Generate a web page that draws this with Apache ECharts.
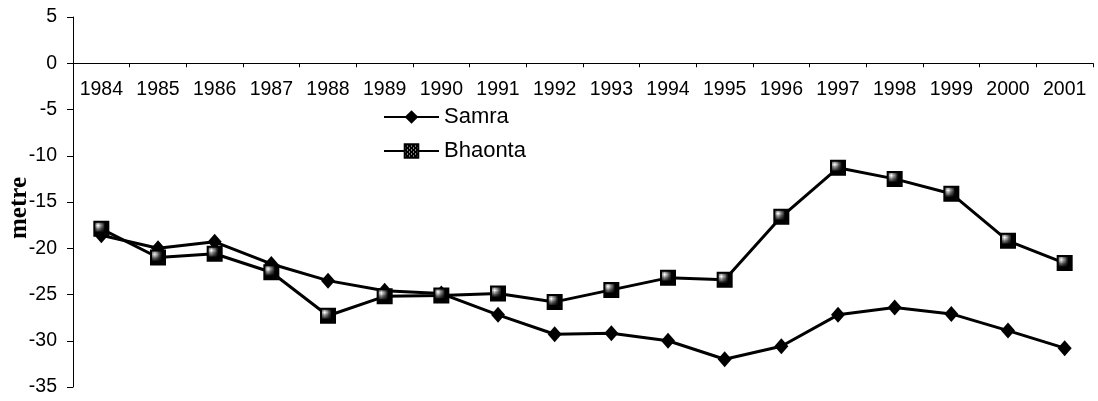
<!DOCTYPE html>
<html>
<head>
<meta charset="utf-8">
<script src="https://cdn.jsdelivr.net/npm/echarts@6/dist/echarts.min.js"></script>
<style>
html,body{margin:0;padding:0;background:#fff;}
#chart{width:1098px;height:401px;}
</style>
</head>
<body>
<div id="chart"></div>
<script>
const years = ['1984','1985','1986','1987','1988','1989','1990','1991','1992','1993','1994','1995','1996','1997','1998','1999','2000','2001'];
const samra = [-18.6,-20.0,-19.3,-21.7,-23.5,-24.6,-24.9,-27.2,-29.3,-29.2,-30.0,-32.0,-30.6,-27.2,-26.4,-27.1,-28.9,-30.8];
const bhaonta = [-17.9,-21.0,-20.6,-22.6,-27.3,-25.2,-25.1,-24.9,-25.8,-24.5,-23.2,-23.4,-16.6,-11.3,-12.5,-14.1,-19.2,-21.6];
const yTicks = {min:-35, max:5, interval:5};

// speckled fill for the square markers
const pc = document.createElement('canvas');
pc.width = 4; pc.height = 4;
const pctx = pc.getContext('2d');
pctx.fillStyle = '#000'; pctx.fillRect(0,0,4,4);
pctx.fillStyle = '#fff';
pctx.fillRect(1,1,1,1); pctx.fillRect(3,3,1,1);

const FONT = "'Liberation Sans', Arial, sans-serif";
const GRID = {left:73, right:5, top:17, bottom:14};
const plotH = 401 - GRID.top - GRID.bottom;
// distance from grid top to the value 0 line
const zeroOffset = plotH * (yTicks.max - 0) / (yTicks.max - yTicks.min);

const chart = echarts.init(document.getElementById('chart'), null, {renderer:'canvas'});
chart.setOption({
  animation:false,
  backgroundColor:'#fff',
  grid:Object.assign({containLabel:false, outerBoundsMode:'none'}, GRID),
  legend:{
    orient:'vertical', left:378, top:101,
    itemWidth:55, itemHeight:17, itemGap:12,
    textStyle:{fontFamily:FONT, fontSize:22, color:'#000'},
    data:['Samra','Bhaonta']
  },
  xAxis:{
    type:'category', data:years, boundaryGap:true,
    position:'top', offset:-zeroOffset,
    axisLine:{onZero:false, lineStyle:{color:'#000', width:1}},
    axisTick:{show:true, inside:true, length:4, lineStyle:{color:'#000'}},
    axisLabel:{inside:true, margin:16, fontFamily:FONT, fontSize:19.5, color:'#000', interval:0},
    splitLine:{show:false}
  },
  yAxis:{
    type:'value', min:yTicks.min, max:yTicks.max, interval:yTicks.interval,
    name:'metre', nameLocation:'middle', nameGap:41, nameMoveOverlap:false,
    nameTextStyle:{fontFamily:"'Liberation Serif', 'Times New Roman', serif", fontWeight:'bold', fontSize:25, color:'#000', padding:[0,12,0,0]},
    axisLine:{show:true, lineStyle:{color:'#000', width:1}},
    axisTick:{show:true, length:6, lineStyle:{color:'#000'}},
    axisLabel:{margin:16, fontFamily:FONT, fontSize:19.5, color:'#000'},
    splitLine:{show:false}
  },
  series:[
    {
      name:'Samra', type:'line', data:samra,
      symbol:'diamond', symbolSize:[14,16],
      itemStyle:{color:'#000'},
      lineStyle:{color:'#000', width:3}
    },
    {
      name:'Bhaonta', type:'line', data:bhaonta,
      symbol:'rect', symbolSize:14,
      itemStyle:{color:{image:pc, repeat:'repeat'}, borderColor:'#000', borderWidth:2},
      lineStyle:{color:'#000', width:3}
    }
  ]
});
</script>
</body>
</html>
